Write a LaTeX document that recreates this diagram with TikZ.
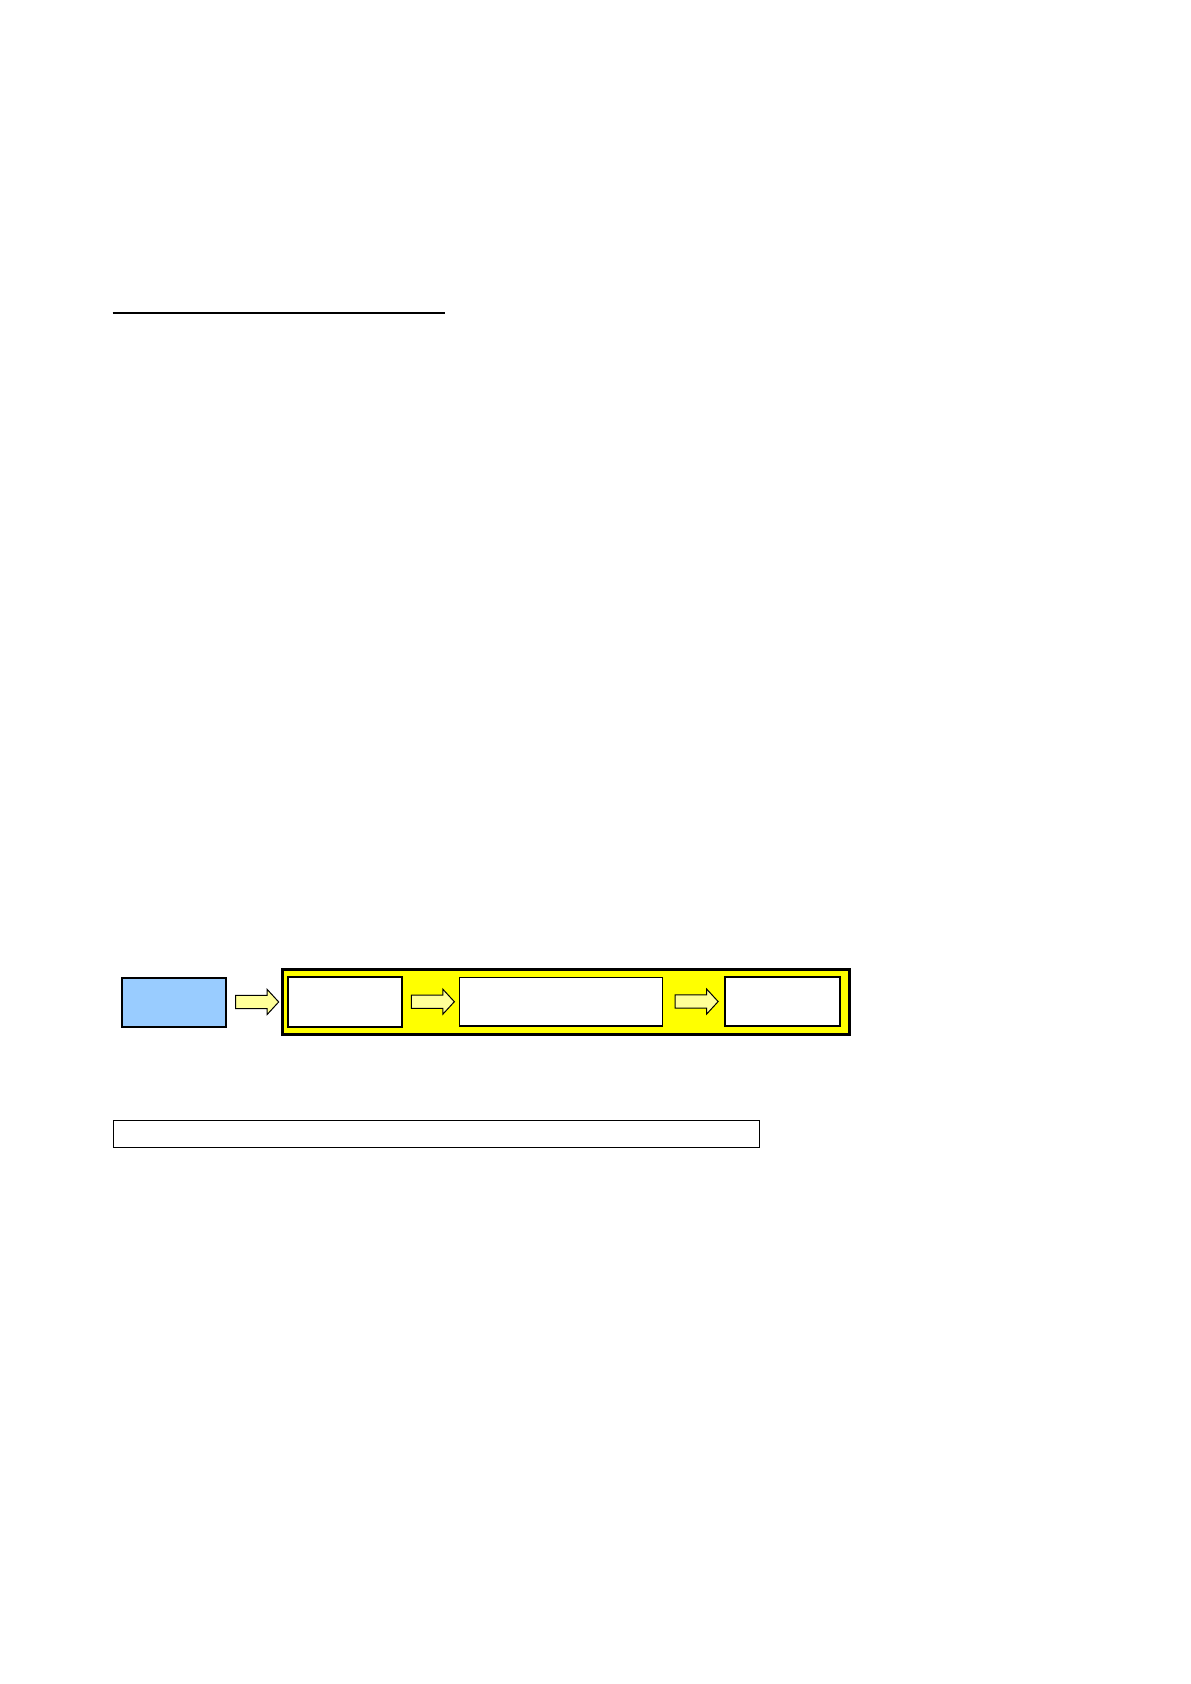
\documentclass[tikz,border=0pt]{standalone}
\usetikzlibrary{calc}

\tikzset{every picture/.style={line width=0.75pt}}
\tikzset{
  stagebox/.style={draw, inner sep=0pt, minimum width=#1},
  fatarrow/.pic={
    \draw [color={rgb, 255:red, 0; green, 0; blue, 0 }, fill={rgb, 255:red, 255; green, 255; blue, 153 }, line width=0.5pt, line join=miter]
      (-21.5,-6.6) -- (10,-6.6) -- (10,-12.5) -- (21.5,0) -- (10,12.5) -- (10,6.6) -- (-21.5,6.6) -- cycle ;
  }
}

\begin{document}
\begin{tikzpicture}[x=0.5pt,y=0.5pt,yscale=-1,xscale=1]
    \useasboundingbox (0,0) rectangle (1190,1684); %page of 1190 x 1684

    %Straight Lines [id:rule]
    \draw [line width=1pt]  (112.7,312.7) -- (445,312.7) ;

    %Shape: Rectangle [id:input]
    \node (input) [stagebox=52.2pt, minimum height=24.5pt, line width=1pt, fill={rgb, 255:red, 153; green, 204; blue, 255 }] at (173.9,1002.2) {};
    %Shape: Rectangle [id:frame]
    \node (frame) [stagebox=283.2pt, minimum height=32.6pt, line width=1.4pt, fill={rgb, 255:red, 255; green, 255; blue, 0 }] at (565.9,1001.9) {};
    %Shape: Rectangle [id:stepa]
    \node (stepa) [stagebox=56.9pt, minimum height=25pt, line width=1pt, fill=white] at (345.2,1001.7) {};
    %Shape: Rectangle [id:stepb]
    \node (stepb) [stagebox=101.5pt, minimum height=24.4pt, line width=0.7pt, fill=white] at (560.8,1001.7) {};
    %Shape: Rectangle [id:stepc]
    \node (stepc) [stagebox=57.5pt, minimum height=24.7pt, line width=1pt, fill=white] at (782.8,1001.4) {};

    %Block Arrows
    \pic at ($(input.east)!0.5!(stepa.west)$) {fatarrow};
    \pic at ($(stepa.east)!0.5!(stepb.west)+(2,0)$) {fatarrow};
    \pic at ($(stepb.east)!0.5!(stepc.west)+(3,0)$) {fatarrow};

    %Shape: Rectangle [id:caption]
    \node (caption) [stagebox=323pt, minimum height=13.5pt, line width=0.7pt] at (436.3,1133.8) {};

\end{tikzpicture}
\end{document}
